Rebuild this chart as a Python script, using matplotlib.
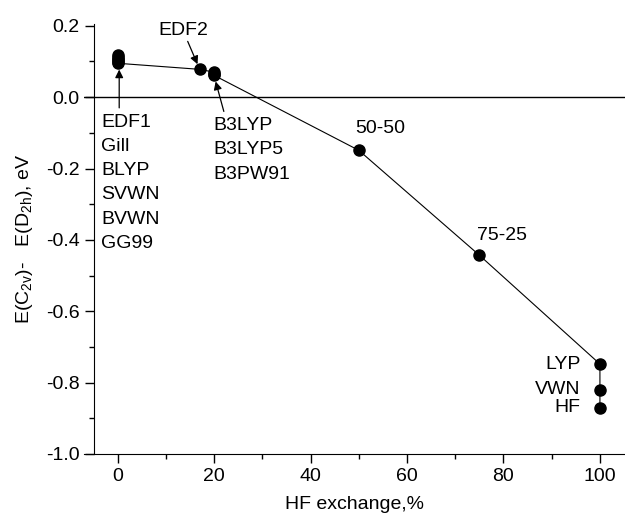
import matplotlib.pyplot as plt
from matplotlib.ticker import MultipleLocator, FormatStrFormatter

plt.rcParams['font.family'] = ['Liberation Sans', 'DejaVu Sans']
plt.rcParams['mathtext.default'] = 'regular'
plt.rcParams['axes.unicode_minus'] = False

# HF exchange (%) and energy difference E(C2v) - E(D2h) in eV
hf_exchange = [0, 0, 0, 0, 0, 0, 17, 20, 20, 20, 50, 75, 100, 100, 100]
delta_e = [0.118, 0.113, 0.108, 0.103, 0.098, 0.095, 0.078,
           0.070, 0.065, 0.061, -0.149, -0.443, -0.748, -0.820, -0.870]

edf1_group = ['EDF1', 'Gill', 'BLYP', 'SVWN', 'BVWN', 'GG99']
b3_group = ['B3LYP', 'B3LYP5', 'B3PW91']
pure_hf_group = ['LYP', 'VWN', 'HF']

FS = 14

fig = plt.figure(figsize=(6.25, 5.18), dpi=100)
ax = fig.add_axes([0.1344, 0.1236, 0.8656, 0.830])

ax.plot(hf_exchange, delta_e, color='black', lw=0.8, marker='o', ms=8,
        mec='black', mfc='black', zorder=3)
ax.axhline(0, color='black', lw=1.0, zorder=1)

ax.set_xlim(-7, 105.2)
ax.set_ylim(-1.0, 0.205)

ax.spines['top'].set_visible(False)
ax.spines['right'].set_visible(False)
ax.spines['left'].set_position(('data', -5))
ax.spines['left'].set_bounds(-1.0, 0.205)

ax.xaxis.set_major_locator(MultipleLocator(20))
ax.xaxis.set_minor_locator(MultipleLocator(10))
ax.yaxis.set_major_locator(MultipleLocator(0.2))
ax.yaxis.set_minor_locator(MultipleLocator(0.1))
ax.yaxis.set_major_formatter(FormatStrFormatter('%.1f'))
ax.set_xticks([0, 20, 40, 60, 80, 100])
ax.tick_params(which='major', direction='out', length=6.5, width=1.0, labelsize=FS)
ax.tick_params(which='minor', direction='out', length=3.5, width=1.0)

ax.set_xlabel('HF exchange,%', fontsize=FS, labelpad=8)
ax.set_ylabel('E(C$_{2v}$)-   E(D$_{2h}$), eV', fontsize=FS, labelpad=8)

arrow = dict(arrowstyle='-|>', color='black', lw=0.9, mutation_scale=12,
             shrinkA=0, shrinkB=4)

ax.annotate('EDF2', xy=(17, 0.078), xytext=(13.5, 0.188), fontsize=FS,
            ha='center', va='center', arrowprops=arrow)
ax.annotate('', xy=(0.3, 0.093), xytext=(0.3, -0.03), arrowprops=arrow)
ax.annotate('', xy=(20, 0.059), xytext=(22, -0.04), arrowprops=arrow)

ax.text(-3.4, -0.046, '\n'.join(edf1_group), fontsize=FS, ha='left', va='top',
        linespacing=1.56)
ax.text(19.9, -0.056, '\n'.join(b3_group), fontsize=FS, ha='left', va='top',
        linespacing=1.56)

ax.text(54.5, -0.087, '50-50', fontsize=FS, ha='center', va='center')
ax.text(74.6, -0.389, '75-25', fontsize=FS, ha='left', va='center')

for name, y in zip(pure_hf_group, delta_e[-3:]):
    ax.text(96.0, y, name, fontsize=FS, ha='right', va='center')

fig.savefig('out.png', dpi=100)
